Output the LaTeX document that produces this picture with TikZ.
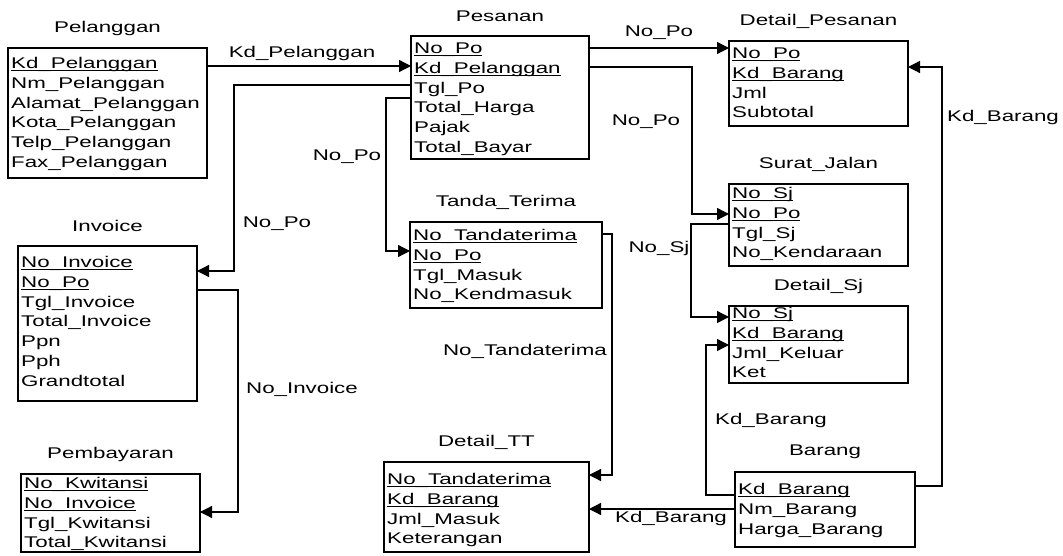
\documentclass[tikz,border=0pt]{standalone}
\usepackage{fontspec}
\setmainfont{Liberation Sans}[FakeStretch=1.44]
\usetikzlibrary{arrows.meta,fit,calc}

% key attribute: a rule under the whole name, at underscore depth
\newcommand\keyul[1]{\setbox0\hbox{#1}\rlap{\rule[-2.6pt]{\wd0}{1.1pt}}\box0}

% \entity{id}{title}{(x1,y1)}{(x2,y2)}{first row y}{flag/attribute list}
\newcommand\entity[6]{%
  \node[ebox, fit={#3 #4}] (#1) {};
  \node[etitle] (#1-t) at ([yshift=20pt]#1.north) {#2};
  \foreach \f/\txt [count=\i] in {#6} {
    \pgfmathsetmacro\yy{#5+(\i-1)*19.8+5.5}
    \node[erow] (#1-\i) at (#1.west |- 0,\yy) {\if k\f\keyul{\txt}\else\txt\fi};
  }%
}

\tikzset{
  ebox/.style={draw, line width=1.3pt, inner sep=0pt, outer sep=0pt},
  etitle/.style={inner sep=0pt},
  erow/.style={anchor=base west, inner sep=0pt, xshift=3pt},
  lbl/.style={inner sep=0pt},
  fk/.style={line width=1.3pt, -{Triangle[length=12pt,width=12pt]}},
}

\begin{document}
\begin{tikzpicture}[x=1pt, y=-1pt, font=\fontsize{15.5}{18}\selectfont]
\useasboundingbox (0,0) rectangle (1063,556);
\fill[white] (0,0) rectangle (1063,556);

\entity{pel}{Pelanggan}{(8,48)}{(207,178)}{63}{k/Kd\_Pelanggan, n/Nm\_Pelanggan, n/Alamat\_Pelanggan, n/Kota\_Pelanggan, n/Telp\_Pelanggan, n/Fax\_Pelanggan}
\entity{pes}{Pesanan}{(411,36)}{(589,159)}{48}{k/No\_Po, k/Kd\_Pelanggan, n/Tgl\_Po, n/Total\_Harga, n/Pajak, n/Total\_Bayar}
\entity{dp}{Detail\_Pesanan}{(729,41)}{(908,126)}{53}{k/No\_Po, k/Kd\_Barang, n/Jml, n/Subtotal}
\entity{sj}{Surat\_Jalan}{(729,184)}{(908,266)}{193}{k/No\_Sj, k/No\_Po, n/Tgl\_Sj, n/No\_Kendaraan}
\entity{dsj}{Detail\_Sj}{(729,306)}{(908,383)}{313}{k/No\_Sj, k/Kd\_Barang, n/Jml\_Keluar, n/Ket}
\entity{bar}{Barang}{(735,472)}{(915,547)}{489}{k/Kd\_Barang, n/Nm\_Barang, n/Harga\_Barang}
\entity{tt}{Tanda\_Terima}{(410,222)}{(602,308)}{235}{k/No\_Tandaterima, k/No\_Po, n/Tgl\_Masuk, n/No\_Kendmasuk}
\entity{dtt}{Detail\_TT}{(384,462)}{(589,552)}{479}{k/No\_Tandaterima, k/Kd\_Barang, n/Jml\_Masuk, n/Keterangan}
\entity{inv}{Invoice}{(18,246)}{(197,401)}{262}{k/No\_Invoice, k/No\_Po, n/Tgl\_Invoice, n/Total\_Invoice, n/Ppn, n/Pph, n/Grandtotal}
\entity{pem}{Pembayaran}{(21,474)}{(200,552)}{483}{k/No\_Kwitansi, k/No\_Invoice, n/Tgl\_Kwitansi, n/Total\_Kwitansi}

% relationships
\draw[fk] (pel.east |- 0,66) -- (pes.west |- 0,66);
\draw[fk] (pes.west |- 0,85) -| (234,271) -- (inv.east |- 0,271);
\draw[fk] (pes.west |- 0,98) -| (386,251) -- (tt.west |- 0,251);
\draw[fk] (pes.east |- 0,48) -- (dp.west |- 0,48);
\draw[fk] (pes.east |- 0,67) -| (692,214) -- (sj.west |- 0,214);
\draw[fk] (sj.west |- 0,224) -| (691,317) -- (dsj.west |- 0,317);
\draw[fk] (tt.east |- 0,234) -| (612,475) -- (dtt.east |- 0,475);
\draw[fk] (bar.west |- 0,509) -- (dtt.east |- 0,509);
\draw[fk] (bar.west |- 0,495) -| (706,345) -- (dsj.west |- 0,345);
\draw[fk] (bar.east |- 0,486) -| (942,67) -- (dp.east |- 0,67);
\draw[fk] (inv.east |- 0,290) -| (238,512) -- (pem.east |- 0,512);

% relationship labels
\node[lbl] (l1) at (302,53) {Kd\_Pelanggan};
\node[lbl] (l2) at (277,224) {No\_Po};
\node[lbl] (l3) at (347,157) {No\_Po};
\node[lbl] (l4) at (659,33) {No\_Po};
\node[lbl] (l5) at (646,122) {No\_Po};
\node[lbl] (l6) at (659,248) {No\_Sj};
\node[lbl] (l7) at (525,351) {No\_Tandaterima};
\node[lbl] (l8) at (671,518) {Kd\_Barang};
\node[lbl] (l9) at (771,420) {Kd\_Barang};
\node[lbl] (l10) at (1003,117) {Kd\_Barang};
\node[lbl] (l11) at (302,389) {No\_Invoice};
\end{tikzpicture}
\end{document}
